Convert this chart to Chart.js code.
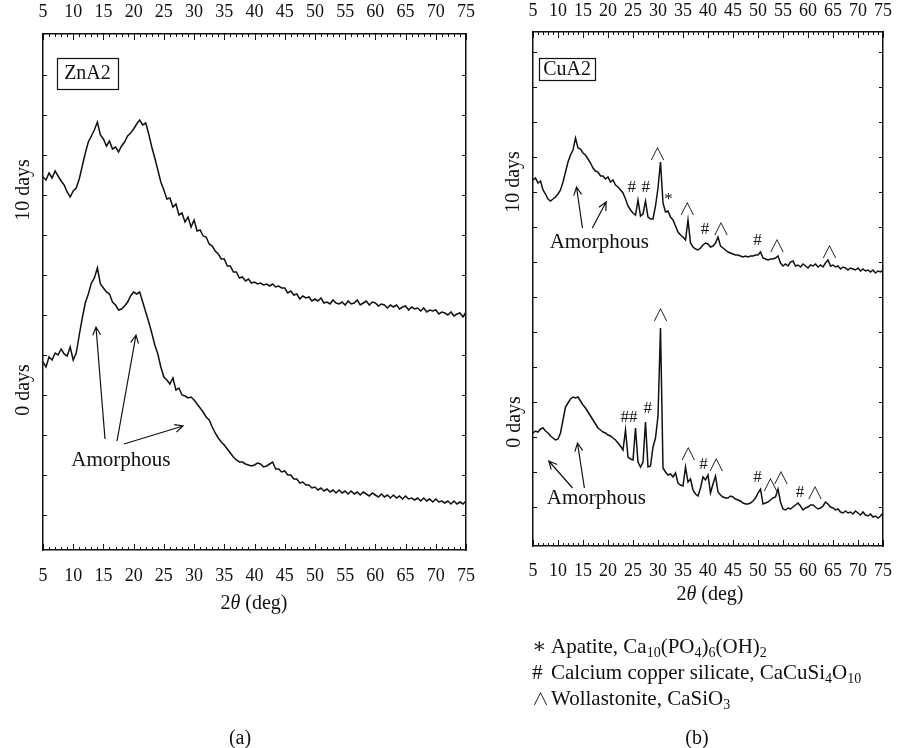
<!DOCTYPE html>
<html>
<head>
<meta charset="utf-8">
<script src="https://cdn.jsdelivr.net/npm/chart.js@4.4.1/dist/chart.umd.min.js"></script>
<style>
  body { margin:0; background:#fff; width:898px; height:748px; position:relative; overflow:hidden;
         font-family:'Liberation Serif','DejaVu Serif',serif; color:#111; }
  canvas { position:absolute; top:0; }
  .lbl { position:absolute; font-size:20px; white-space:nowrap; transform:translate(-50%,-50%); }
  .rot { transform:translate(-50%,-50%) rotate(-90deg); }
  #legend { position:absolute; left:532px; top:634px; font-size:21px; line-height:25.5px; white-space:nowrap; }
  #legend .sym { display:inline-block; width:19px; }
  #legend .wedge { font-family:'Noto Sans CJK JP','DejaVu Sans',sans-serif; font-size:17px; font-weight:300; }
  sub { font-size:14px; line-height:0; vertical-align:-4px; }
</style>
</head>
<body>
<canvas id="znChart" width="490" height="620" style="left:0"></canvas>
<canvas id="cuChart" width="408" height="620" style="left:490px"></canvas>

<div class="lbl rot" style="left:22px; top:190px">10 days</div>
<div class="lbl rot" style="left:22px; top:390px">0 days</div>
<div class="lbl rot" style="left:512px; top:182px">10 days</div>
<div class="lbl rot" style="left:513px; top:422px">0 days</div>
<div class="lbl" style="left:254px; top:602px">2<i>θ</i> (deg)</div>
<div class="lbl" style="left:710px; top:593px">2<i>θ</i> (deg)</div>
<div class="lbl" style="left:240px; top:737px">(a)</div>
<div class="lbl" style="left:697px; top:737px">(b)</div>
<div id="legend">
  <div><span class="sym">∗</span>Apatite, Ca<sub>10</sub>(PO<sub>4</sub>)<sub>6</sub>(OH)<sub>2</sub></div>
  <div><span class="sym">#</span>Calcium copper silicate, CaCuSi<sub>4</sub>O<sub>10</sub></div>
  <div><span class="sym wedge">∧</span>Wollastonite, CaSiO<sub>3</sub></div>
</div>

<script>
// 2θ grid, 0.5 deg steps from 5 to 75
const angleStart = 5;
const angleStep = 0.5;
const angleCount = 141;
let angles = [];
for (let i = 0; i < angleCount; i++) {
    angles.push(angleStart + i * angleStep);
}

// intensities (arbitrary units, stacked as drawn)
let znTenDays = [
    373, 370, 377, 372, 379, 374, 369, 365, 358, 353,
    359, 362, 371, 384, 397, 408, 414, 420, 428, 415,
    411, 404, 409, 401, 403, 398, 404, 408, 414, 417,
    421, 426, 430, 425, 427, 416, 403, 392, 380, 368,
    360, 351, 352, 343, 346, 335, 337, 328, 333, 323,
    330, 319, 320, 314, 313, 306, 304, 299, 296, 291,
    291, 284, 284, 278, 278, 272, 273, 269, 271, 267,
    268, 266, 267, 265, 266, 264, 266, 263, 264, 262,
    262, 257, 259, 255, 256, 251, 254, 252, 253, 249,
    251, 249, 252, 247, 248, 246, 250, 247, 246, 248,
    245, 249, 246, 247, 250, 245, 247, 249, 245, 248,
    247, 244, 246, 245, 242, 245, 243, 245, 241, 243,
    244, 240, 243, 241, 242, 239, 242, 238, 240, 239,
    240, 236, 238, 237, 235, 238, 234, 236, 237, 233,
    238
];

let znZeroDays = [
    188, 183, 193, 190, 197, 195, 201, 196, 194, 203,
    190, 197, 215, 232, 247, 256, 267, 272, 282, 266,
    262, 258, 256, 248, 245, 240, 241, 244, 248, 254,
    258, 256, 258, 248, 238, 228, 217, 205, 196, 183,
    173, 170, 166, 172, 160, 162, 155, 154, 152, 153,
    150, 146, 142, 138, 133, 130, 123, 117, 112, 108,
    105, 101, 97, 93, 90, 88, 88, 86, 85, 84,
    85, 87, 86, 83, 84, 86, 88, 81, 81, 78,
    79, 75, 75, 71, 71, 67, 68, 65, 65, 62,
    63, 60, 62, 59, 61, 58, 60, 57, 60, 57,
    59, 56, 59, 56, 58, 55, 58, 56, 54, 57,
    55, 53, 56, 53, 55, 52, 55, 52, 54, 51,
    54, 51, 52, 50, 52, 49, 52, 49, 51, 48,
    51, 48, 49, 47, 49, 46, 49, 46, 48, 46,
    49
];

let cuTenDays = [
    366, 368, 363, 365, 356, 352, 347, 345, 347, 349,
    352, 356, 364, 374, 384, 391, 396, 408, 398, 397,
    393, 391, 387, 383, 378, 375, 374, 370, 370, 367,
    369, 364, 366, 361, 359, 356, 353, 347, 340, 336,
    333, 331, 346, 330, 332, 345, 329, 327, 327, 340,
    358, 384, 343, 334, 335, 329, 326, 320, 314, 311,
    309, 306, 326, 303, 299, 297, 296, 298, 301, 303,
    302, 299, 300, 303, 309, 300, 298, 296, 294, 293,
    292, 291, 291, 290, 289, 290, 289, 290, 290, 291,
    291, 294, 288, 287, 286, 287, 287, 288, 290, 283,
    280, 282, 280, 284, 285, 280, 281, 279, 282, 280,
    278, 281, 280, 282, 279, 281, 279, 283, 286, 280,
    281, 279, 280, 277, 279, 278, 276, 278, 277, 276,
    278, 275, 277, 275, 276, 274, 276, 273, 275, 274,
    276
];

let cuZeroDays = [
    113, 115, 114, 117, 118, 115, 113, 110, 108, 106,
    107, 113, 126, 139, 143, 147, 149, 148, 149, 145,
    141, 138, 134, 130, 126, 122, 118, 116, 114, 113,
    111, 110, 108, 106, 103, 100, 96, 116, 89, 87,
    86, 118, 84, 79, 84, 124, 79, 80, 99, 108,
    130, 218, 78, 74, 71, 72, 69, 73, 63, 61,
    60, 79, 64, 67, 56, 52, 50, 58, 69, 66,
    71, 53, 62, 70, 54, 51, 49, 48, 48, 50,
    49, 47, 46, 45, 43, 42, 42, 43, 45, 48,
    53, 57, 42, 43, 44, 46, 48, 49, 57, 44,
    37, 36, 38, 37, 39, 41, 43, 40, 36, 38,
    39, 41, 41, 39, 37, 38, 40, 44, 42, 39,
    38, 36, 37, 34, 33, 35, 33, 34, 32, 35,
    33, 31, 34, 31, 30, 32, 29, 30, 28, 30,
    33
];

// unlabeled intensity ticks
let znYTicks = [35, 75, 115, 155, 195, 235, 275, 315, 355, 395, 435, 475];
let cuYTicks = [39, 74, 109, 144, 179, 214, 249, 284, 319, 354, 389, 424, 459, 494];

// annotations, in (2θ, intensity) units
let znNotes = {
    box: { x: 12.36, y: 477, text: 'ZnA2', padX: 7, h: 31 },
    texts: [['Amorphous', 17.9, 90]],
    arrows: [[15.26, 111, 13.77, 223], [17.25, 109, 20.39, 215], [18.4, 106, 28.17, 124]]
};

let cuNotes = {
    box: { x: 11.82, y: 477, text: 'CuA2', padX: 4, h: 22 },
    texts: [
        ['Amorphous', 18.25, 304], ['Amorphous', 17.66, 48],
        ['#', 24.77, 358], ['#', 27.54, 358], ['∧', 29.92, 392], ['*', 32.09, 346],
        ['∧', 35.85, 337], ['#', 39.4, 316], ['∧', 42.6, 317], ['#', 49.9, 305],
        ['∧', 53.8, 300], ['∧', 64.3, 294],
        ['∧', 30.5, 231], ['##', 24.18, 128], ['#', 27.94, 137], ['∧', 36.05, 92],
        ['#∧', 40.8, 81], ['#', 49.9, 68], ['∧', 52.5, 61], ['∧', 54.6, 68],
        ['#', 58.4, 53], ['∧', 61.4, 53]
    ],
    arrows: [[14.89, 318, 13.7, 359], [16.86, 318, 19.63, 344], [12.91, 58, 8.16, 85], [15.28, 58, 13.9, 103]]
};

const ink = '#111';
const serif = "'Liberation Serif', 'DejaVu Serif', serif";
const wedgeFont = "300 17px 'Noto Sans CJK JP', 'DejaVu Sans', sans-serif";

// inward tick marks on all four sides
const frameTicks = {
    id: 'frameTicks',
    afterDraw(chart, args, opts) {
        const { ctx, chartArea: a, scales } = chart;
        ctx.save();
        ctx.strokeStyle = ink;
        ctx.lineWidth = 1;
        ctx.beginPath();
        for (let v = 5; v <= 75; v++) {
            const px = Math.round(scales.x.getPixelForValue(v)) + 0.5;
            const len = v % 5 === 0 ? 6 : 3;
            ctx.moveTo(px, a.top); ctx.lineTo(px, a.top + len);
            ctx.moveTo(px, a.bottom); ctx.lineTo(px, a.bottom - len);
        }
        opts.yTicks.forEach(v => {
            const py = Math.round(scales.y.getPixelForValue(v)) + 0.5;
            ctx.moveTo(a.left, py); ctx.lineTo(a.left + 4, py);
            ctx.moveTo(a.right, py); ctx.lineTo(a.right - 4, py);
        });
        ctx.stroke();
        ctx.restore();
    }
};

// draws a label where '∧' uses a thin wedge glyph
function drawMark(ctx, t, x, y) {
    const parts = t.split('');
    ctx.font = '17px ' + serif;
    const widths = parts.map(p => {
        ctx.font = p === '∧' ? wedgeFont : '17px ' + serif;
        return ctx.measureText(p).width;
    });
    let cx = x - widths.reduce((s, w) => s + w, 0) / 2;
    ctx.textAlign = 'left';
    parts.forEach((p, i) => {
        ctx.font = p === '∧' ? wedgeFont : '17px ' + serif;
        ctx.fillText(p, cx, y);
        cx += widths[i];
    });
    ctx.textAlign = 'center';
}

// sample box, phase marks, arrows
const notes = {
    id: 'notes',
    afterDraw(chart, args, opts) {
        const { ctx, scales } = chart;
        const X = v => scales.x.getPixelForValue(v);
        const Y = v => scales.y.getPixelForValue(v);
        ctx.save();
        ctx.fillStyle = ink;
        ctx.strokeStyle = ink;
        ctx.textAlign = 'center';
        ctx.textBaseline = 'middle';

        const b = opts.box;
        ctx.font = '20px ' + serif;
        const w = ctx.measureText(b.text).width + 2 * b.padX;
        ctx.lineWidth = 1.2;
        ctx.strokeRect(Math.round(X(b.x) - w / 2) + 0.5, Math.round(Y(b.y) - b.h / 2) + 0.5, Math.round(w), b.h);
        ctx.fillText(b.text, X(b.x), Y(b.y) + 1);

        opts.texts.forEach(([t, x, y]) => {
            if (t === 'Amorphous') {
                ctx.font = '21px ' + serif;
                ctx.fillText(t, X(x), Y(y));
            } else {
                drawMark(ctx, t, X(x), Y(y));
            }
        });

        ctx.lineWidth = 1.2;
        opts.arrows.forEach(([x1, y1, x2, y2]) => {
            const ax = X(x1), ay = Y(y1), bx = X(x2), by = Y(y2);
            const ang = Math.atan2(by - ay, bx - ax);
            ctx.beginPath();
            ctx.moveTo(ax, ay);
            ctx.lineTo(bx, by);
            ctx.moveTo(bx - 9 * Math.cos(ang - 0.45), by - 9 * Math.sin(ang - 0.45));
            ctx.lineTo(bx, by);
            ctx.lineTo(bx - 9 * Math.cos(ang + 0.45), by - 9 * Math.sin(ang + 0.45));
            ctx.stroke();
        });
        ctx.restore();
    }
};

function xAxis(position, pad, size) {
    return {
        type: 'linear', position: position, min: 5, max: 75,
        ticks: { stepSize: 5, padding: pad, color: ink, maxRotation: 0, autoSkip: false,
                 font: { family: serif, size: 18 } },
        grid: { display: false },
        border: { color: ink, width: 1.5 },
        afterFit: s => { s.height = size; }
    };
}

function yAxis(position, yMax, size) {
    return {
        type: 'linear', position: position, min: 0, max: yMax,
        ticks: { display: false },
        grid: { display: false },
        border: { color: ink, width: 1.5 },
        afterFit: s => { s.width = size; }
    };
}

function buildChart(id, series, yMax, yTicks, panelNotes, fit) {
    new Chart(document.getElementById(id), {
        type: 'line',
        data: {
            datasets: series.map(s => ({
                data: angles.map((a, i) => ({ x: a, y: s[i] })),
                borderColor: ink,
                borderWidth: 1.5,
                pointRadius: 0,
                tension: 0
            }))
        },
        options: {
            responsive: false,
            animation: false,
            events: [],
            layout: { padding: 0 },
            plugins: {
                legend: { display: false },
                tooltip: { enabled: false },
                frameTicks: { yTicks: yTicks },
                notes: panelNotes
            },
            scales: {
                x: xAxis('bottom', fit.bottomPad, fit.bottom),
                x2: xAxis('top', fit.topPad, fit.top),
                y: yAxis('left', yMax, fit.left),
                y2: yAxis('right', yMax, fit.right)
            }
        },
        plugins: [frameTicks, notes]
    });
}

buildChart('znChart', [znTenDays, znZeroDays], 516, znYTicks, znNotes,
    { left: 43, right: 24, top: 34, bottom: 70, topPad: 3, bottomPad: 7 });
buildChart('cuChart', [cuTenDays, cuZeroDays], 514, cuYTicks, cuNotes,
    { left: 43, right: 11, top: 32, bottom: 74, topPad: 2, bottomPad: 6 });
</script>
</body>
</html>
